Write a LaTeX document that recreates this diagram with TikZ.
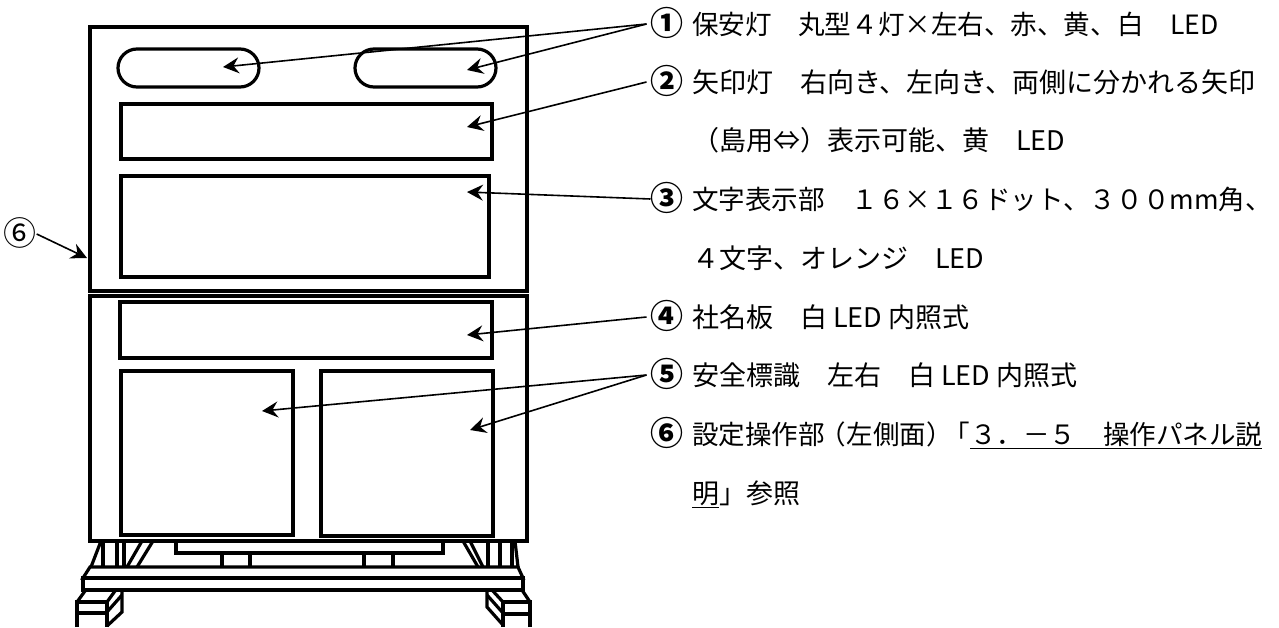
\documentclass[tikz,border=0pt]{standalone}
\usepackage{fontspec}
\setmainfont{Noto Sans CJK JP}
\usetikzlibrary{arrows.meta}
\tikzset{
	body/.style={line width=3.2pt,line join=miter},
	callout/.style={line width=1.6pt,-{Stealth[length=16pt,width=16pt,inset=5.5pt]}},
	numtxt/.style={inner sep=0pt,outer sep=4pt,text height=27pt,text depth=4pt,font=\fontsize{33}{33}\selectfont\bfseries},
	sidenum/.style={inner sep=0pt,text height=27pt,text depth=4pt,font=\fontsize{33}{33}\selectfont},
	desc/.style={inner sep=0pt,anchor=west,text height=24pt,text depth=3.4pt,font=\fontsize{27}{27}\selectfont},
	tightdesc/.style={desc,font=\fontsize{26.55}{26.55}\selectfont},
}
\begin{document}
\begin{tikzpicture}[x=1pt,y=-1pt]
	\useasboundingbox (0,0) rectangle (1279,627);
	\draw [body] (90,27) rectangle (527,291);
	\draw [body] (90,296) rectangle (527,541);
	\draw [body,rounded corners=19pt] (118,49) rectangle (259,87);
	\draw [body,rounded corners=19pt] (355,49) rectangle (496,87);
	\draw [body] (121,104) rectangle (492,159);
	\draw [body] (121,176) rectangle (489,277);
	\draw [body] (120,302) rectangle (492,358);
	\draw [body] (121,371) rectangle (293,535);
	\draw [body] (321,371) rectangle (493,536);
	\draw [body] (176,541) -- (176,553) -- (443,553) -- (443,541);
	\draw [body] (222,553) -- (222,567);
	\draw [body] (250,553) -- (250,567);
	\draw [body] (364,553) -- (364,567);
	\draw [body] (393,553) -- (393,567);
	\draw [body] (101,541) -- (91,567);
	\draw [body] (103,541) -- (103,567);
	\draw [body] (117,541) -- (117,567);
	\draw [body] (124,541) -- (124,567);
	\draw [body] (142,541) -- (127,567);
	\draw [body] (153,541) -- (137,567);
	\draw [body] (463,541) -- (478,567);
	\draw [body] (470,541) -- (483,567);
	\draw [body] (488,541) -- (488,567);
	\draw [body] (500,541) -- (500,567);
	\draw [body] (512,541) -- (512,567);
	\draw [body] (515,541) -- (518,567);
	\draw [body] (90,567) -- (518,567) -- (523,578) -- (83,578) -- cycle;
	\draw [body] (83,578) rectangle (523,590);
	\draw [body] (77,627) -- (77,602) -- (107,602) -- (107,627);
	\draw [body] (77,613) -- (107,613);
	\draw [body] (77,602) -- (85,591);
	\draw [body] (107,602) -- (115,591);
	\draw [body] (122,591) -- (122,612) -- (107,626);
	\draw [body] (107,612) -- (122,595);
	\draw [body] (530,627) -- (530,602) -- (503,602) -- (503,627);
	\draw [body] (530,614) -- (503,614);
	\draw [body] (530,602) -- (522,590);
	\draw [body] (503,602) -- (492,590);
	\draw [body] (487,590) -- (487,607) -- (503,625);
	\draw [body] (503,613) -- (487,595);
	\coordinate (tip1a) at (223,67);
	\coordinate (tip1b) at (467,70);
	\coordinate (tip2) at (467,127);
	\coordinate (tip3) at (467,192);
	\coordinate (tip4) at (467,335);
	\coordinate (tip5a) at (262,411);
	\coordinate (tip5b) at (470,430);
	\coordinate (tip6) at (87,258);
	\node [numtxt] (num1) at (667,24) {①};
	\node [numtxt] (num2) at (667,82) {②};
	\node [numtxt,outer sep=0pt] (num3) at (667,199) {③};
	\node [numtxt] (num4) at (667,317) {④};
	\node [numtxt] (num5) at (667,375) {⑤};
	\node [numtxt] (num6) at (667,434) {⑥};
	\node [sidenum] (numside) at (20,234) {⑥};
	\node [tightdesc] (text1) at (692,24) {保安灯　丸型４灯×左右、赤、黄、白　LED};
	\node [desc] (text2) at (692,82) {矢印灯　右向き、左向き、両側に分かれる矢印};
	\node [desc] (text2b) at (692,140) {（島用⇔）表示可能、黄　LED};
	\node [tightdesc] (text3) at (692,199) {文字表示部　１６×１６ドット、３００mm角、};
	\node [desc] (text3b) at (692,258) {４文字、オレンジ　LED};
	\node [desc] (text4) at (692,317) {社名板　白 LED 内照式};
	\node [desc] (text5) at (692,375) {安全標識　左右　白 LED 内照式};
	\node [tightdesc] (text6) at (692,434) {設定操作部\kern-5pt（左側面）\kern-9pt「\underline{３．－５　操作パネル説}};
	\node [desc] (text6b) at (692,493) {\underline{明}」参照};
	\draw [callout] (num1.west) -- (tip1a);
	\draw [callout] (num1.west) -- (tip1b);
	\draw [callout] (num2.west) -- (tip2);
	\draw [callout] (num3.west) -- (tip3);
	\draw [callout] (num4.west) -- (tip4);
	\draw [callout] (num5.west) -- (tip5a);
	\draw [callout] (num5.west) -- (tip5b);
	\draw [callout] (numside.east) -- (tip6);
\end{tikzpicture}
\end{document}
